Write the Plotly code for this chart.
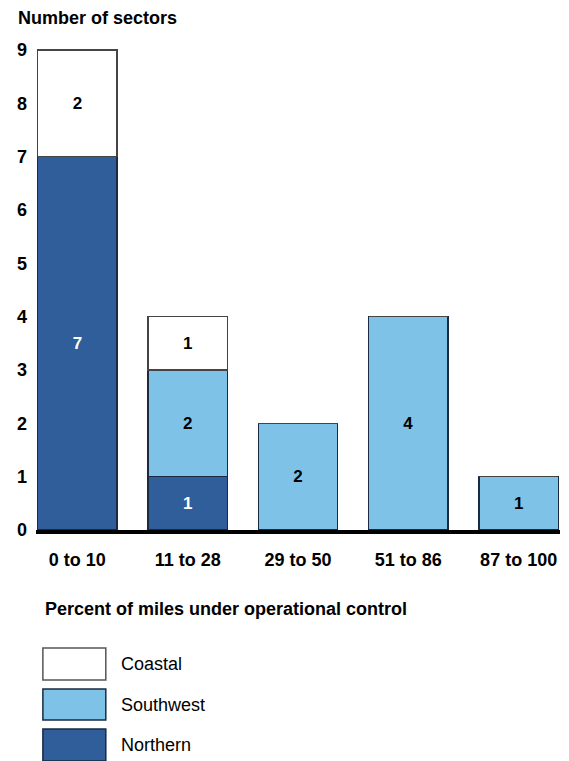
import plotly.graph_objects as go

categories = ["0 to 10", "11 to 28", "29 to 50", "51 to 86", "87 to 100"]
northern = [7, 1, 0, 0, 0]
southwest = [0, 2, 2, 4, 1]
coastal = [2, 1, 0, 0, 0]
y_ticks = list(range(0, 10))

# the page body has an 8px margin; work in page pixels and convert
OFF = 8
W, H = 569 - OFF, 761 - OFF
L, R, T, B = 27, 560, 49, 530  # plot area in page pixels


def px(x):
    return (x - L) / (R - L)


def py(y):
    return (B - y) / (B - T)


FONT = "Liberation Sans, Arial, Helvetica, sans-serif"
C_NORTH = "#2f5e9b"
C_SW = "#7ec2e7"
C_COAST = "#ffffff"
FS = 18


def labels(vals):
    return [str(v) if v else "" for v in vals]


fig = go.Figure()
series = [
    ("Northern", northern, C_NORTH, "white", "#1b2a3f"),
    ("Southwest", southwest, C_SW, "black", "#1b2a3f"),
    ("Coastal", coastal, C_COAST, "black", "#444444"),
]
for name, vals, col, tcol, lcol in series:
    fig.add_trace(go.Bar(
        x=categories, y=vals, name=name,
        marker=dict(color=col, line=dict(color=lcol, width=1.5)),
        text=labels(vals), textposition="inside", insidetextanchor="middle",
        textfont=dict(family=FONT, size=FS - 1, color=tcol, weight="bold"),
        showlegend=False,
    ))

fig.update_layout(
    width=W, height=H, barmode="stack", bargap=0.28,
    margin=dict(l=L - OFF, r=W - (R - OFF), t=T - OFF, b=H - (B - OFF), pad=0),
    plot_bgcolor="white", paper_bgcolor="white",
    font=dict(family=FONT, color="black"),
    uniformtext=dict(mode=False),
)
fig.update_xaxes(
    range=[-0.375, 4.375], showline=True, linecolor="black", linewidth=4,
    ticks="", showgrid=False,
    tickfont=dict(family=FONT, size=FS, color="black", weight="bold"),
    ticklabelstandoff=10,
)
fig.update_yaxes(
    range=[0, 9.02], tickvals=y_ticks, ticks="", showgrid=False, zeroline=False,
    showline=False,
    tickfont=dict(family=FONT, size=FS, color="black", weight="bold"),
    ticklabelstandoff=8,
)

ann = []
ann.append(dict(text="Number of sectors", x=px(7), y=py(18), xref="paper", yref="paper",
                xanchor="left", yanchor="middle", showarrow=False,
                font=dict(family=FONT, size=FS, color="black", weight="bold")))
ann.append(dict(text="Percent of miles under operational control", x=px(34), y=py(609),
                xref="paper", yref="paper", xanchor="left", yanchor="middle", showarrow=False,
                font=dict(family=FONT, size=FS, color="black", weight="bold")))

shapes = []
legend_items = [("Coastal", C_COAST, "#555555", 648, 680),
                ("Southwest", C_SW, "#1b2a3f", 689, 720),
                ("Northern", C_NORTH, "#1b2a3f", 729, 761)]
for name, col, lcol, y0, y1 in legend_items:
    shapes.append(dict(type="rect", xref="paper", yref="paper",
                       x0=px(34), x1=px(98), y0=py(y0), y1=py(y1),
                       fillcolor=col, line=dict(color=lcol, width=1.5)))
    ann.append(dict(text=name, x=px(111), y=py((y0 + y1) / 2), xref="paper", yref="paper",
                    xanchor="left", yanchor="middle", showarrow=False,
                    font=dict(family=FONT, size=FS, color="black")))

fig.update_layout(annotations=ann, shapes=shapes)
fig.write_html("out.html")
